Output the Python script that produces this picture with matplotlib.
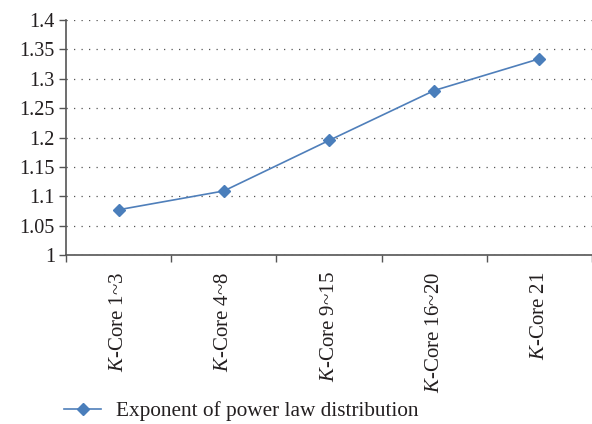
import numpy as np
import matplotlib
matplotlib.use("Agg")
import matplotlib.pyplot as plt
from matplotlib.ticker import FixedLocator, NullFormatter

plt.rcParams['font.family'] = ['Liberation Serif', 'DejaVu Serif']
plt.rcParams['mathtext.fontset'] = 'custom'
plt.rcParams['mathtext.rm'] = 'Liberation Serif'
plt.rcParams['mathtext.it'] = 'Liberation Serif:italic'

categories = [r"$\it{K}$-Core 1~3", r"$\it{K}$-Core 4~8", r"$\it{K}$-Core 9~15",
              r"$\it{K}$-Core 16~20", r"$\it{K}$-Core 21"]
exponent = [1.077, 1.109, 1.195, 1.280, 1.334]
y_ticks = [1, 1.05, 1.1, 1.15, 1.2, 1.25, 1.3, 1.35, 1.4]
y_labels = ["1", "1.05", "1.1", "1.15", "1.2", "1.25", "1.3", "1.35", "1.4"]

fig = plt.figure(figsize=(5.92, 4.24), dpi=100)
ax = fig.add_axes([0.1115, 0.3986, 0.8885, 0.5542])

x = np.arange(len(categories)) + 0.5
ax.plot(x, exponent, color="#4F7FBA", linewidth=1.2, marker='D', markersize=6.5,
        markerfacecolor="#4A7EBB", markeredgecolor="#4A7EBB",
        label="Exponent of power law distribution", clip_on=False)

ax.set_xlim(0, len(categories))
ax.set_ylim(1, 1.4)
ax.set_yticks(y_ticks)
ax.set_yticklabels(y_labels, fontsize=14.5, color="#231F20")
ax.set_xticks(x)
ax.set_xticklabels(categories, rotation=90, fontsize=15, color="#231F20")
ax.tick_params(axis='x', which='major', length=0, pad=12)
ax.xaxis.set_minor_locator(FixedLocator(np.arange(len(categories) + 1)))
ax.xaxis.set_minor_formatter(NullFormatter())
ax.tick_params(axis='x', which='minor', length=5, width=1, color="#555555")
ax.tick_params(axis='y', length=5, width=1, color="#555555", pad=3)

ax.grid(True, axis='y', linestyle=(0, (1, 5)), color="#555555", linewidth=0.9)
ax.set_axisbelow(True)
for s in ["top", "right"]:
    ax.spines[s].set_visible(False)
for s in ["left", "bottom"]:
    ax.spines[s].set_color("#555555")
    ax.spines[s].set_linewidth(1.2)

leg = fig.legend(loc="center left", bbox_to_anchor=(64 / 592, 1 - 411 / 424), frameon=False,
                 fontsize=15.3, handlelength=1.75, handletextpad=0.7, borderpad=0, borderaxespad=0)
for t in leg.get_texts():
    t.set_color("#231F20")

fig.savefig("out.png", dpi=100)
